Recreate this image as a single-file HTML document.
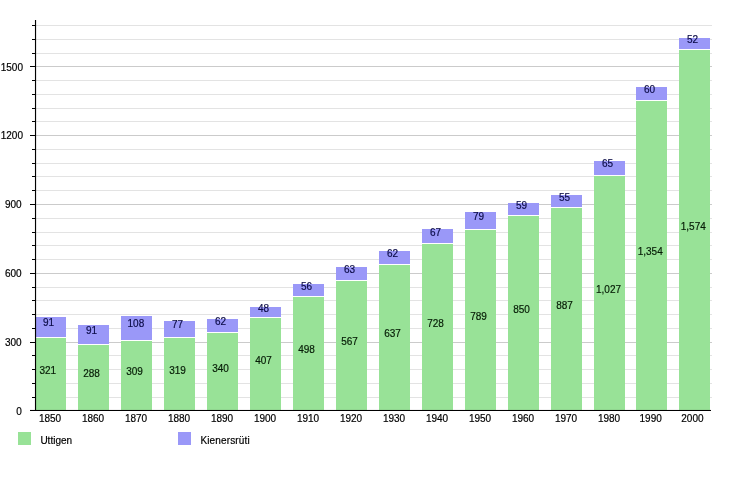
<!DOCTYPE html><html><head><meta charset="utf-8"><title>Uttigen</title>
<style>html,body{margin:0;padding:0;background:#fff}svg{display:block}text{font-family:"Liberation Sans",sans-serif;font-size:10px;fill:#000;stroke:#000;stroke-width:0.18px}text.g{fill:#061c06;stroke:#061c06}text.p{fill:#0c0c48;stroke:#0c0c48}</style></head><body>
<svg width="745" height="500" viewBox="0 0 745 500">
<rect width="745" height="500" fill="#fff"/>
<rect x="36" y="397.00" width="676" height="1" fill="#e3e3e3"/>
<rect x="36" y="383.00" width="676" height="1" fill="#e3e3e3"/>
<rect x="36" y="369.00" width="676" height="1" fill="#e3e3e3"/>
<rect x="36" y="355.00" width="676" height="1" fill="#e3e3e3"/>
<rect x="36" y="342.00" width="676" height="1" fill="#cbcbcb"/>
<rect x="36" y="328.00" width="676" height="1" fill="#e3e3e3"/>
<rect x="36" y="314.00" width="676" height="1" fill="#e3e3e3"/>
<rect x="36" y="300.00" width="676" height="1" fill="#e3e3e3"/>
<rect x="36" y="287.00" width="676" height="1" fill="#e3e3e3"/>
<rect x="36" y="273.00" width="676" height="1" fill="#cbcbcb"/>
<rect x="36" y="259.00" width="676" height="1" fill="#e3e3e3"/>
<rect x="36" y="245.00" width="676" height="1" fill="#e3e3e3"/>
<rect x="36" y="232.00" width="676" height="1" fill="#e3e3e3"/>
<rect x="36" y="218.00" width="676" height="1" fill="#e3e3e3"/>
<rect x="36" y="204.00" width="676" height="1" fill="#cbcbcb"/>
<rect x="36" y="190.00" width="676" height="1" fill="#e3e3e3"/>
<rect x="36" y="176.00" width="676" height="1" fill="#e3e3e3"/>
<rect x="36" y="163.00" width="676" height="1" fill="#e3e3e3"/>
<rect x="36" y="149.00" width="676" height="1" fill="#e3e3e3"/>
<rect x="36" y="135.00" width="676" height="1" fill="#cbcbcb"/>
<rect x="36" y="121.00" width="676" height="1" fill="#e3e3e3"/>
<rect x="36" y="108.00" width="676" height="1" fill="#e3e3e3"/>
<rect x="36" y="94.00" width="676" height="1" fill="#e3e3e3"/>
<rect x="36" y="80.00" width="676" height="1" fill="#e3e3e3"/>
<rect x="36" y="66.00" width="676" height="1" fill="#cbcbcb"/>
<rect x="36" y="53.00" width="676" height="1" fill="#e3e3e3"/>
<rect x="36" y="39.00" width="676" height="1" fill="#e3e3e3"/>
<rect x="36" y="25.00" width="676" height="1" fill="#e3e3e3"/>
<rect x="35" y="338" width="31" height="72.5" fill="#98e297"/>
<rect x="35" y="317" width="31" height="20" fill="#9a98f8"/>
<rect x="78" y="345" width="31" height="65.5" fill="#98e297"/>
<rect x="78" y="325" width="31" height="19" fill="#9a98f8"/>
<rect x="121" y="341" width="31" height="69.5" fill="#98e297"/>
<rect x="121" y="316" width="31" height="24" fill="#9a98f8"/>
<rect x="164" y="338" width="31" height="72.5" fill="#98e297"/>
<rect x="164" y="321" width="31" height="16" fill="#9a98f8"/>
<rect x="207" y="333" width="31" height="77.5" fill="#98e297"/>
<rect x="207" y="319" width="31" height="13" fill="#9a98f8"/>
<rect x="250" y="318" width="31" height="92.5" fill="#98e297"/>
<rect x="250" y="307" width="31" height="10" fill="#9a98f8"/>
<rect x="293" y="297" width="31" height="113.5" fill="#98e297"/>
<rect x="293" y="284" width="31" height="12" fill="#9a98f8"/>
<rect x="336" y="281" width="31" height="129.5" fill="#98e297"/>
<rect x="336" y="267" width="31" height="13" fill="#9a98f8"/>
<rect x="379" y="265" width="31" height="145.5" fill="#98e297"/>
<rect x="379" y="251" width="31" height="13" fill="#9a98f8"/>
<rect x="422" y="244" width="31" height="166.5" fill="#98e297"/>
<rect x="422" y="229" width="31" height="14" fill="#9a98f8"/>
<rect x="465" y="230" width="31" height="180.5" fill="#98e297"/>
<rect x="465" y="212" width="31" height="17" fill="#9a98f8"/>
<rect x="508" y="216" width="31" height="194.5" fill="#98e297"/>
<rect x="508" y="203" width="31" height="12" fill="#9a98f8"/>
<rect x="551" y="208" width="31" height="202.5" fill="#98e297"/>
<rect x="551" y="195" width="31" height="12" fill="#9a98f8"/>
<rect x="594" y="176" width="31" height="234.5" fill="#98e297"/>
<rect x="594" y="161" width="31" height="14" fill="#9a98f8"/>
<rect x="636" y="101" width="31" height="309.5" fill="#98e297"/>
<rect x="636" y="87" width="31" height="13" fill="#9a98f8"/>
<rect x="679" y="50" width="31" height="360.5" fill="#98e297"/>
<rect x="679" y="38" width="31" height="11" fill="#9a98f8"/>
<rect x="34.95" y="20" width="1.15" height="391" fill="#000"/>
<rect x="30" y="409.95" width="681" height="1.05" fill="#000"/>
<rect x="32" y="397.00" width="3" height="1" fill="#000"/>
<rect x="32" y="383.00" width="3" height="1" fill="#000"/>
<rect x="32" y="369.00" width="3" height="1" fill="#000"/>
<rect x="32" y="355.00" width="3" height="1" fill="#000"/>
<rect x="30" y="342.00" width="5" height="1" fill="#000"/>
<rect x="32" y="328.00" width="3" height="1" fill="#000"/>
<rect x="32" y="314.00" width="3" height="1" fill="#000"/>
<rect x="32" y="300.00" width="3" height="1" fill="#000"/>
<rect x="32" y="287.00" width="3" height="1" fill="#000"/>
<rect x="30" y="273.00" width="5" height="1" fill="#000"/>
<rect x="32" y="259.00" width="3" height="1" fill="#000"/>
<rect x="32" y="245.00" width="3" height="1" fill="#000"/>
<rect x="32" y="232.00" width="3" height="1" fill="#000"/>
<rect x="32" y="218.00" width="3" height="1" fill="#000"/>
<rect x="30" y="204.00" width="5" height="1" fill="#000"/>
<rect x="32" y="190.00" width="3" height="1" fill="#000"/>
<rect x="32" y="176.00" width="3" height="1" fill="#000"/>
<rect x="32" y="163.00" width="3" height="1" fill="#000"/>
<rect x="32" y="149.00" width="3" height="1" fill="#000"/>
<rect x="30" y="135.00" width="5" height="1" fill="#000"/>
<rect x="32" y="121.00" width="3" height="1" fill="#000"/>
<rect x="32" y="108.00" width="3" height="1" fill="#000"/>
<rect x="32" y="94.00" width="3" height="1" fill="#000"/>
<rect x="32" y="80.00" width="3" height="1" fill="#000"/>
<rect x="30" y="66.00" width="5" height="1" fill="#000"/>
<rect x="32" y="53.00" width="3" height="1" fill="#000"/>
<rect x="32" y="39.00" width="3" height="1" fill="#000"/>
<rect x="32" y="25.00" width="3" height="1" fill="#000"/>
<text x="21.7" y="414.90" text-anchor="end">0</text>
<text x="21.7" y="346.00" text-anchor="end">300</text>
<text x="21.7" y="277.00" text-anchor="end">600</text>
<text x="21.7" y="208.00" text-anchor="end">900</text>
<text x="23.0" y="139.00" text-anchor="end">1200</text>
<text x="23.0" y="71.20" text-anchor="end">1500</text>
<text x="50.05" y="422" text-anchor="middle">1850</text>
<text x="93.05" y="422" text-anchor="middle">1860</text>
<text x="136.05" y="422" text-anchor="middle">1870</text>
<text x="179.05" y="422" text-anchor="middle">1880</text>
<text x="222.05" y="422" text-anchor="middle">1890</text>
<text x="265.05" y="422" text-anchor="middle">1900</text>
<text x="308.05" y="422" text-anchor="middle">1910</text>
<text x="351.05" y="422" text-anchor="middle">1920</text>
<text x="394.05" y="422" text-anchor="middle">1930</text>
<text x="437.05" y="422" text-anchor="middle">1940</text>
<text x="480.05" y="422" text-anchor="middle">1950</text>
<text x="523.05" y="422" text-anchor="middle">1960</text>
<text x="566.05" y="422" text-anchor="middle">1970</text>
<text x="609.05" y="422" text-anchor="middle">1980</text>
<text x="650.65" y="422" text-anchor="middle">1990</text>
<text x="692.45" y="422" text-anchor="middle">2000</text>
<text x="47.80" y="373.68" text-anchor="middle" class="g">321</text>
<text x="48.50" y="326.42" text-anchor="middle" class="p">91</text>
<text x="91.50" y="377.46" text-anchor="middle" class="g">288</text>
<text x="91.50" y="333.99" text-anchor="middle" class="p">91</text>
<text x="134.50" y="375.06" text-anchor="middle" class="g">309</text>
<text x="135.90" y="327.22" text-anchor="middle" class="p">108</text>
<text x="177.50" y="373.91" text-anchor="middle" class="g">319</text>
<text x="177.50" y="328.49" text-anchor="middle" class="p">77</text>
<text x="220.50" y="371.50" text-anchor="middle" class="g">340</text>
<text x="220.50" y="325.39" text-anchor="middle" class="p">62</text>
<text x="263.50" y="363.81" text-anchor="middle" class="g">407</text>
<text x="263.50" y="311.62" text-anchor="middle" class="p">48</text>
<text x="306.50" y="353.38" text-anchor="middle" class="g">498</text>
<text x="306.50" y="289.83" text-anchor="middle" class="p">56</text>
<text x="349.50" y="345.46" text-anchor="middle" class="g">567</text>
<text x="349.50" y="273.20" text-anchor="middle" class="p">63</text>
<text x="392.50" y="337.43" text-anchor="middle" class="g">637</text>
<text x="392.50" y="257.25" text-anchor="middle" class="p">62</text>
<text x="435.50" y="326.99" text-anchor="middle" class="g">728</text>
<text x="435.50" y="235.80" text-anchor="middle" class="p">67</text>
<text x="478.50" y="320.00" text-anchor="middle" class="g">789</text>
<text x="478.50" y="220.43" text-anchor="middle" class="p">79</text>
<text x="521.50" y="313.00" text-anchor="middle" class="g">850</text>
<text x="521.50" y="208.73" text-anchor="middle" class="p">59</text>
<text x="564.50" y="308.76" text-anchor="middle" class="g">887</text>
<text x="564.50" y="200.70" text-anchor="middle" class="p">55</text>
<text x="608.50" y="292.70" text-anchor="middle" class="g">1,027</text>
<text x="607.50" y="167.44" text-anchor="middle" class="p">65</text>
<text x="650.20" y="255.19" text-anchor="middle" class="g">1,354</text>
<text x="649.50" y="92.99" text-anchor="middle" class="p">60</text>
<text x="693.25" y="229.95" text-anchor="middle" class="g">1,574</text>
<text x="692.50" y="43.44" text-anchor="middle" class="p">52</text>
<rect x="18" y="432" width="13" height="13" fill="#98e297"/>
<text x="40.4" y="443.8">Uttigen</text>
<rect x="178" y="432" width="13" height="13" fill="#9a98f8"/>
<text x="200.4" y="443.8" letter-spacing="0.15">Kienersrüti</text>
</svg></body></html>
